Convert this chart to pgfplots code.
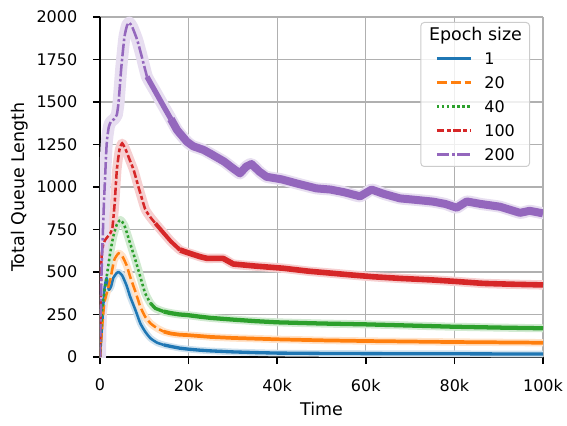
\documentclass[border=0pt]{standalone}
\usepackage{fontspec}
\setmainfont{DejaVu Sans}
\usepackage{pgfplots}
\usepackage{pgfplotstable}
\pgfplotsset{compat=1.18}

\definecolor{c1}{HTML}{1F77B4}
\definecolor{c2}{HTML}{FF7F0E}
\definecolor{c3}{HTML}{2CA02C}
\definecolor{c4}{HTML}{D62728}
\definecolor{c5}{HTML}{9467BD}
\definecolor{gridgray}{HTML}{B0B0B0}
\definecolor{legedge}{HTML}{CCCCCC}

\tikzset{
  d20/.style={dash pattern=on 7.6pt off 2.85pt},
  d40/.style={dash pattern=on 1.9pt off 1.9pt},
  d100/.style={dash pattern=on 5.7pt off 1.9pt on 2.85pt off 1.9pt},
  d200/.style={dash pattern=on 9.5pt off 1.9pt on 1.9pt off 1.9pt},
}

% Time in thousands, total queue length
\pgfplotstableread{
t v
0 0
0.5 200
1.0 400
1.5 465
2.0 395
2.5 415
3.0 465
3.7 492
4.2 500
5.0 480
6.0 420
6.8 355
8.0 276
9.1 198
10.2 149
11.4 110
12.9 84
14.4 71
16 62
18 52
20 46
22.6 40
25 36
30 30
35 26
40 23
50 21
60 20
70 19
80 19
90 18
100 18
}\tA

\pgfplotstableread{
t v
0 0
0.5 180
1.0 320
2.3 453
3.2 570
4.2 610
5.0 595
6.0 540
6.8 472
8.0 384
9.1 296
10.2 237
11.4 198
12.9 169
14.4 149
16 138
18 131
19.6 129
22.6 123
25 118
30 112
35 108
40 104
50 98
60 94
70 91
80 88
90 86
100 84
}\tB

\pgfplotstableread{
t v
0 0
0.5 280
1.6 490
2.3 612
3.0 710
3.8 780
4.6 806
5.5 775
6.8 669
8.0 570
9.1 472
10.2 375
11.4 316
12.5 286
14.4 267
16 258
18 250
19.6 247
22.6 237
25 230
30 220
35 211
40 204
50 197
60 192
70 185
80 178
90 173
100 169
}\tC

\pgfplotstableread{
t v
0 0
0.3 560
0.8 670
1.5 700
2.3 727
2.8 760
3.3 900
3.8 1100
4.4 1220
5.0 1257
5.8 1220
6.7 1160
7.6 1100
8.8 990
10.2 870
11.3 825
12.5 786
14.4 728
16 680
18.1 629
20 612
22.6 590
24.2 580
27.8 580
30.1 547
35 535
41.4 522
47 505
52.7 492
57 482
61.7 472
68 462
75.2 453
80 445
86.5 433
93 428
100 424
}\tD

\pgfplotstableread{
t v
0 0
0.3 450
0.83 865
1.5 1250
2.0 1355
2.5 1385
3.2 1400
3.8 1425
4.2 1500
4.8 1700
5.5 1880
6.1 1950
6.6 1967
7.3 1940
8.4 1865
9.5 1760
10.6 1649
12.5 1561
14.4 1473
16 1400
17.4 1335
19.6 1267
21 1240
23.4 1218
25 1195
28 1150
30 1110
31.6 1080
33 1120
34.2 1135
36 1090
37.6 1060
41 1045
44.4 1021
48.8 992
52 985
55 970
58.7 945
61.3 985
64 960
67.7 933
71 925
75.2 914
78 900
80.5 878
82.8 915
86 900
90.3 884
94.8 848
97 860
100 845
}\tE

\begin{document}
\begin{tikzpicture}
\useasboundingbox (-75pt,-51pt) rectangle (350.25pt,267.75pt);
\begin{axis}[
  at={(0pt,0pt)}, anchor=south west,
  scale only axis, width=332.25pt, height=255pt,
  xmin=0, xmax=100, ymin=0, ymax=2000,
  axis x line=bottom, axis y line=left,
  axis line style={-, line width=1.1pt, black},
  xtick={0,20,40,60,80,100},
  xticklabels={0,20k,40k,60k,80k,100k},
  ytick={0,250,...,2000},
  tick align=outside, major tick length=5.25pt,
  tick style={line width=1.1pt, black},
  grid=major, grid style={line width=0.8pt, color=gridgray},
  /pgf/number format/assume math mode=true,
  /pgf/number format/1000 sep={},
  tick label style={font=\fontsize{12}{14}\selectfont},
  xticklabel style={anchor=north, inner sep=0pt, yshift=-11pt},
  yticklabel style={anchor=east, inner sep=0pt, xshift=-11.6pt},
  label style={font=\fontsize{13.1}{15}\selectfont},
  xlabel={Time}, ylabel={Total Queue Length},
  xlabel style={at={(axis description cs:0.5,-0.1735)}, anchor=base},
  ylabel style={at={(axis description cs:-0.1693,0.5)}, anchor=base},
  no markers,
  legend cell align=left,
  legend image code/.code={\path (-5.3pt,0pt); \draw[#1] (0pt,0pt) -- (26pt,0pt);},
  legend style={at={(rel axis cs:0.9707,0.9853)}, anchor=north east,
    draw=legedge, line width=0.75pt, rounded corners=2.5pt,
    fill=white, fill opacity=0.8, text opacity=1,
    inner xsep=5.7pt, inner ysep=0pt, column sep=8.7pt, row sep=0pt,
    font=\fontsize{12}{14}\selectfont,
    nodes={inner sep=0pt, text height=13.37pt, text depth=4.63pt}},
]
% confidence bands
\addplot[forget plot, draw=c1!22, line width=5pt, line join=round, line cap=round, smooth, tension=0.3] table[x=t,y=v] {\tA};
\addplot[forget plot, draw=c2!22, line width=5.5pt, line join=round, line cap=round, smooth, tension=0.3] table[x=t,y=v] {\tB};
\addplot[forget plot, draw=c3!22, line width=6pt, line join=round, line cap=round, smooth, tension=0.3] table[x=t,y=v] {\tC};
\addplot[forget plot, draw=c4!22, line width=7pt, line join=round, line cap=round, smooth, tension=0.3] table[x=t,y=v] {\tD};
\addplot[forget plot, draw=c5!22, line width=9pt, line join=round, line cap=round, smooth, tension=0.3] table[x=t,y=v] {\tE};
% epoch size 1
\addplot[forget plot, c1, line width=1.9pt, line join=round, smooth, tension=0.3, restrict x to domain=0:14.41] table[x=t,y=v] {\tA};
\addplot[forget plot, c1, line width=2.5pt, line join=round, restrict x to domain=14.39:100] table[x=t,y=v] {\tA};
% epoch size 20
\addplot[forget plot, c2, line width=1.9pt, d20, smooth, tension=0.3, restrict x to domain=0:14.41] table[x=t,y=v] {\tB};
\addplot[forget plot, c2, line width=2.8pt, line join=round, restrict x to domain=14.39:100] table[x=t,y=v] {\tB};
% epoch size 40
\addplot[forget plot, c3, line width=1.9pt, d40, smooth, tension=0.3, restrict x to domain=0:11.41] table[x=t,y=v] {\tC};
\addplot[forget plot, c3, line width=2.5pt, line join=round, restrict x to domain=11.39:14.41] table[x=t,y=v] {\tC};
\addplot[forget plot, c3, line width=3.2pt, line join=round, restrict x to domain=14.39:100] table[x=t,y=v] {\tC};
% epoch size 100
\addplot[forget plot, c4, line width=1.9pt, d100, smooth, tension=0.3, restrict x to domain=0:12.51] table[x=t,y=v] {\tD};
\addplot[forget plot, c4, line width=3pt, line join=round, restrict x to domain=12.49:18.11] table[x=t,y=v] {\tD};
\addplot[forget plot, c4, line width=4.2pt, line join=round, restrict x to domain=18.09:100] table[x=t,y=v] {\tD};
% epoch size 200
\addplot[forget plot, c5, line width=1.9pt, d200, smooth, tension=0.3, restrict x to domain=0:10.61] table[x=t,y=v] {\tE};
\addplot[forget plot, c5, line width=4pt, line join=round, restrict x to domain=10.59:16.01] table[x=t,y=v] {\tE};
\addplot[forget plot, c5, line width=6pt, line join=round, restrict x to domain=15.99:100] table[x=t,y=v] {\tE};

\addlegendimage{empty legend}
\addlegendentry[yshift=3.75pt]{\hspace*{-41.5pt}\fontsize{13.1}{15}\selectfont Epoch size}
\addlegendimage{c1, line width=1.9pt}
\addlegendentry{1}
\addlegendimage{c2, line width=1.9pt, d20}
\addlegendentry{20}
\addlegendimage{c3, line width=1.9pt, d40}
\addlegendentry{40}
\addlegendimage{c4, line width=1.9pt, d100}
\addlegendentry{100}
\addlegendimage{c5, line width=1.9pt, d200}
\addlegendentry{200}
\end{axis}
\end{tikzpicture}
\end{document}
